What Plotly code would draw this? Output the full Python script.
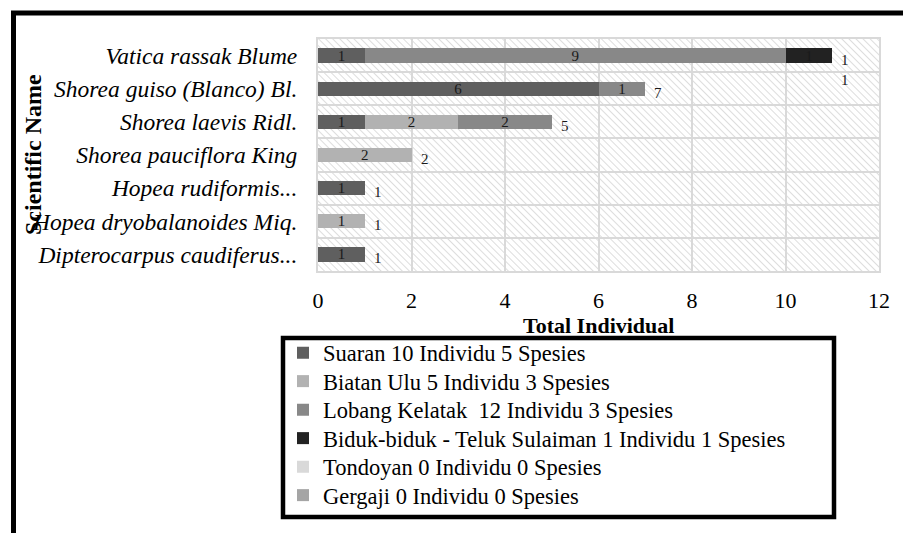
import base64
import plotly.graph_objects as go

# ---------------- data ----------------
species = [
    "Vatica rassak Blume",
    "Shorea guiso (Blanco) Bl.",
    "Shorea laevis Ridl.",
    "Shorea pauciflora King",
    "Hopea rudiformis...",
    "Hopea dryobalanoides Miq.",
    "Dipterocarpus caudiferus...",
]
suaran = [1, 6, 1, 0, 1, 0, 1]
biatan_ulu = [0, 0, 2, 2, 0, 1, 0]
lobang_kelatak = [9, 1, 2, 0, 0, 0, 0]
biduk_biduk = [1, 0, 0, 0, 0, 0, 0]
tondoyan = [0, 0, 0, 0, 0, 0, 0]
gergaji = [0, 0, 0, 0, 0, 0, 0]

series_names = [
    "Suaran 10 Individu 5 Spesies",
    "Biatan Ulu 5 Individu 3 Spesies",
    "Lobang Kelatak  12 Individu 3 Spesies",
    "Biduk-biduk - Teluk Sulaiman 1 Individu 1 Spesies",
    "Tondoyan 0 Individu 0 Spesies",
    "Gergaji 0 Individu 0 Spesies",
]
series_values = [suaran, biatan_ulu, lobang_kelatak, biduk_biduk, tondoyan, gergaji]
series_colors = ["#5f5f5f", "#b2b2b2", "#888888", "#222222", "#d9d9d9", "#a5a5a5"]
x_ticks = [0, 2, 4, 6, 8, 10, 12]

FONT = "Liberation Serif"

# pixel helpers for layout decorations (plot area: x 318..879, y 39..271)
PL, PR, PT, PB = 318, 879, 39, 271
def px_x(p):
    return (p - PL) / (PR - PL)
def px_y(p):
    return (PB - p) / (PB - PT)

legend_ids = ["legend"] + ["legend%d" % (i + 2) for i in range(len(series_names) - 1)]

fig = go.Figure()
for name, vals, col, lg in zip(series_names, series_values, series_colors, legend_ids):
    fig.add_trace(go.Bar(
        y=species, x=vals, name=name, orientation="h", legend=lg,
        marker=dict(color=col, line=dict(width=0)),
        text=[str(v) if v else "" for v in vals],
        textposition="inside", insidetextanchor="middle",
        textfont=dict(family=FONT, size=15, color="#1a1a1a"),
        textangle=0, constraintext="none",
        hoverinfo="x+name",
    ))

totals = [sum(s[i] for s in series_values) for i in range(len(species))]

annotations = []
for sp, t in zip(species, totals):
    txt = "<br>".join(list(str(t))) if t >= 10 else str(t)
    annotations.append(dict(
        x=t, y=sp, xref="x", yref="y", text=txt, showarrow=False,
        xanchor="left", yanchor="top", xshift=7, yshift=6,
        font=dict(family=FONT, size=15, color="#1a1a1a"),
    ))

annotations.append(dict(
    x=0.5, y=px_y(325), xref="paper", yref="paper", text="<b>Total Individual</b>",
    showarrow=False, xanchor="center", yanchor="middle",
    font=dict(family=FONT, size=22, color="black"),
))
annotations.append(dict(
    x=px_x(33), y=0.5, xref="paper", yref="paper", text="<b>Scientific Name</b>",
    showarrow=False, xanchor="center", yanchor="middle", textangle=-90,
    font=dict(family=FONT, size=24, color="black"),
))

# hatch background for the plot area
svg = (
    '<svg xmlns="http://www.w3.org/2000/svg" width="561" height="232" viewBox="0 0 561 232">'
    '<defs><pattern id="h" width="5" height="5" patternUnits="userSpaceOnUse" '
    'patternTransform="rotate(-45)"><line x1="0" y1="0" x2="0" y2="5" '
    'stroke="#cfcfcf" stroke-width="1.4"/></pattern></defs>'
    '<rect width="561" height="232" fill="white"/>'
    '<rect width="561" height="232" fill="url(#h)"/></svg>'
)
src = "data:image/svg+xml;base64," + base64.b64encode(svg.encode()).decode()

layout_legends = {}
for i, lg in enumerate(legend_ids):
    layout_legends[lg] = dict(
        x=px_x(283), y=px_y(353 + i * 28.5), xanchor="left", yanchor="middle",
        bgcolor="rgba(0,0,0,0)", borderwidth=0,
        font=dict(family=FONT, size=22.5, color="black"),
        traceorder="normal",
    )

fig.update_layout(
    width=903, height=533, autosize=False,
    margin=dict(l=PL, r=903 - PR, t=PT, b=533 - PB, autoexpand=False),
    paper_bgcolor="white", plot_bgcolor="rgba(0,0,0,0)",
    barmode="stack", bargap=0.57,
    font=dict(family=FONT, color="black", size=22),
    showlegend=True,
    xaxis=dict(
        range=[0, 12], tickvals=x_ticks, ticktext=[str(v) for v in x_ticks],
        showgrid=True, gridcolor="#d9d9d9", gridwidth=2,
        showline=True, mirror=True, linecolor="#d9d9d9", linewidth=2,
        zeroline=False, ticks="", ticklabelstandoff=9,
        tickfont=dict(family=FONT, size=22, color="black"),
        fixedrange=True,
    ),
    yaxis=dict(
        type="category", categoryorder="array", categoryarray=species,
        range=[len(species) - 0.5, -0.5], tickson="boundaries",
        showgrid=True, gridcolor="#d9d9d9", gridwidth=2,
        showline=True, mirror=True, linecolor="#d9d9d9", linewidth=2,
        zeroline=False, ticks="", ticklabelstandoff=14,
        tickfont=dict(family=FONT, size=23.5, color="black", style="italic"),
        fixedrange=True,
    ),
    annotations=annotations,
    images=[dict(source=src, xref="paper", yref="paper", x=0, y=1, sizex=1, sizey=1,
                 xanchor="left", yanchor="top", sizing="stretch", layer="below")],
    shapes=[
        dict(type="rect", xref="paper", yref="paper",
             x0=px_x(13.5), x1=1.3, y0=-1.6, y1=px_y(13),
             line=dict(color="black", width=5), fillcolor="rgba(0,0,0,0)", layer="above"),
        dict(type="rect", xref="paper", yref="paper",
             x0=px_x(283), x1=px_x(834), y0=px_y(517), y1=px_y(338),
             line=dict(color="black", width=4.5), fillcolor="white", layer="above"),
    ],
    **layout_legends,
)

fig.write_html("out.html", config={"displayModeBar": False},
               post_script="document.body.style.margin='0px';")
